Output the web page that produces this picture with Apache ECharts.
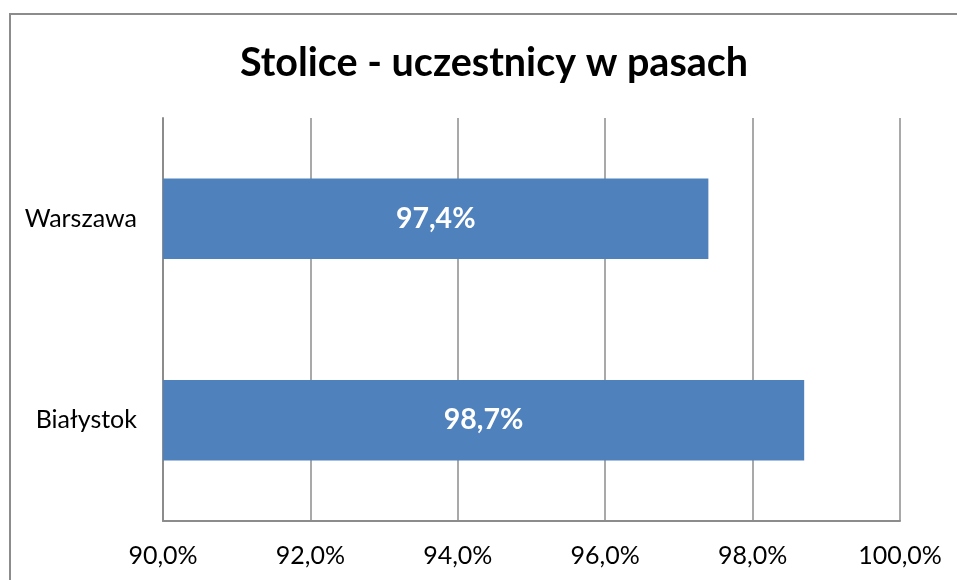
<!DOCTYPE html>
<html><head><meta charset="utf-8">
<script src="https://cdn.jsdelivr.net/npm/echarts@6/dist/echarts.min.js"></script>
<style>
html,body{margin:0;padding:0;background:#fff;overflow:hidden}
#frame{position:absolute;left:9px;top:13px;width:1000px;height:1000px;border:2px solid #8c8c8c;box-sizing:border-box}
#c{position:absolute;left:0;top:0;width:957px;height:580px}
</style></head>
<body>
<div id="frame"></div>
<div id="c"></div>
<script>
const titleText = 'Stolice - uczestnicy w pasach';
const categories = ['Białystok', 'Warszawa'];
const values = [98.7, 97.4];
const axisMin = 90, axisMax = 100, axisStep = 2;

const fmt = v => v.toFixed(1).replace('.', ',') + '%';
const chart = echarts.init(document.getElementById('c'), null, {renderer: 'canvas'});
chart.setOption({
  backgroundColor: 'transparent',
  animation: false,
  title: {
    text: titleText, left: 235, top: 38,
    textStyle: {fontFamily: 'Lato', fontWeight: 'bold', fontSize: 39.5, color: '#000'}
  },
  grid: {left: 163, right: 57, top: 118, bottom: 59},
  xAxis: {
    type: 'value', min: axisMin, max: axisMax, interval: axisStep,
    axisLine: {show: true, onZero: false, lineStyle: {color: '#8c8c8c', width: 2}},
    axisTick: {show: false},
    splitLine: {show: true, lineStyle: {color: '#8c8c8c', width: 1.5}},
    axisLabel: {formatter: v => fmt(v), fontFamily: 'Lato', fontSize: 25, color: '#000', margin: 22}
  },
  yAxis: {
    type: 'category', data: categories,
    axisLine: {show: true, lineStyle: {color: '#8c8c8c', width: 2}},
    axisTick: {show: false},
    axisLabel: {fontFamily: 'Lato', fontSize: 25, color: '#000', margin: 26}
  },
  series: [{
    type: 'bar', data: values, barCategoryGap: '60%',
    itemStyle: {color: '#4F81BD'},
    label: {show: true, position: 'inside', formatter: p => fmt(p.value),
      fontFamily: 'Lato', fontWeight: 'bold', fontSize: 28.5, color: '#fff'}
  }]
});
</script>
</body></html>
